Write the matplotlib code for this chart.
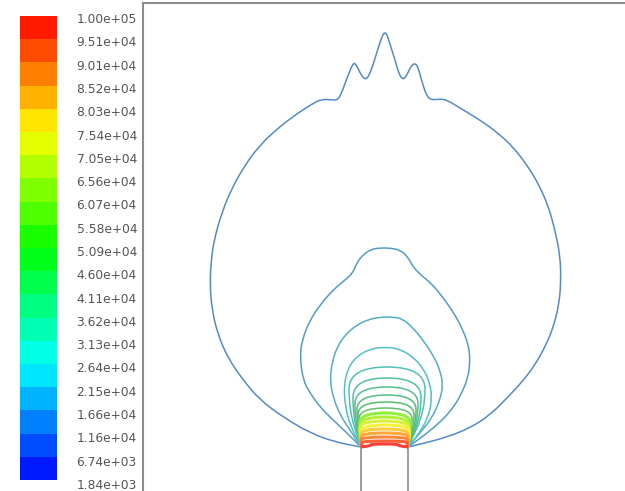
import numpy as np
import matplotlib
matplotlib.use("Agg")
import matplotlib.pyplot as plt
from matplotlib.colors import ListedColormap, BoundaryNorm, hsv_to_rgb
from matplotlib.path import Path
from matplotlib.patches import PathPatch
from matplotlib.cm import ScalarMappable

# contour levels (colour scale, bottom -> top)
levels = [1.84e3, 6.74e3, 1.16e4, 1.66e4, 2.15e4, 2.64e4, 3.13e4, 3.62e4, 4.11e4, 4.60e4,
          5.09e4, 5.58e4, 6.07e4, 6.56e4, 7.05e4, 7.54e4, 8.03e4, 8.52e4, 9.01e4, 9.51e4,
          1.00e5]

# nozzle walls (x of the two walls)
nozzle_x = [-24, 23]

# large contours (x across, y above nozzle exit)
c1_x = [-24, -50, -75, -102, -125, -142, -157, -167, -173, -175, -174, -171, -163, -153,
        -140, -125, -107, -87, -73, -63, -53, -47, -43, -38, -32, -29, -25, -20, -16, -11,
        -6, 0, 5, 10, 14, 18, 22, 26, 30, 33, 37, 42, 47, 55, 62, 75, 95, 113, 128, 142,
        153, 163, 170, 175, 176, 174, 168, 161, 150, 137, 122, 105, 85, 62, 40, 23]
c1_y = [0, 5, 14, 30, 47, 67, 89, 112, 137, 162, 185, 207, 235, 259, 282, 302, 319, 334,
        343, 348, 347, 347, 355, 369, 384, 383, 374, 367, 371, 385, 402, 418, 403, 387, 373,
        367, 372, 381, 384, 380, 365, 350, 347, 348, 347, 339, 327, 314, 300, 282, 264, 242,
        217, 192, 167, 142, 119, 102, 82, 65, 49, 32, 19, 10, 4, 0]

c2_x = [-24, -38, -52, -65, -75, -82, -85, -83, -75, -65, -52, -40, -32, -28, -21, -13, -5,
        5, 15, 23, 28, 37, 47, 60, 70, 78, 84, 85, 83, 75, 65, 52, 37, 23]
c2_y = [0, 14, 27, 40, 54, 67, 90, 107, 127, 142, 157, 167, 174, 185, 193, 198, 199, 199,
        197, 190, 180, 171, 163, 147, 132, 117, 100, 85, 69, 50, 35, 22, 10, 0]

c3_x = [-24, -35, -45, -52, -55, -53, -47, -38, -28, -18, -5, 8, 18, 28, 38, 48, 55, 58,
        55, 47, 35, 23]
c3_y = [0, 17, 32, 50, 67, 85, 102, 114, 122, 127, 130, 130, 128, 119, 107, 92, 77, 62,
        47, 29, 14, 0]

c4_x = [-24, -35, -40, -41, -37, -28, -15, 0, 15, 28, 38, 45, 47, 43, 33, 23]
c4_y = [0, 22, 42, 62, 79, 91, 98, 100, 98, 90, 79, 64, 47, 29, 12, 0]

# inner dome-shaped contours: top height, left and right reach
dome_top = [80, 69, 60, 52, 45, 39, 34, 30, 26, 22, 18, 14, 10, 6, 3]
dome_left = [-36, -32, -30, -28, -27, -26, -25, -25, -25, -24, -24, -24, -24, -23, -14]
dome_right = [40, 36, 33, 31, 29, 27, 25, 24, 24, 24, 23, 23, 23, 22, 13]

W, H = 625, 491
fig = plt.figure(figsize=(W / 100, H / 100), dpi=100)

n_band = len(levels) - 1
band_cols = [hsv_to_rgb((2 / 3 * (1 - (i + 0.5) / n_band), 1, 1)) for i in range(n_band)]
cmap = ListedColormap(band_cols)
norm = BoundaryNorm(levels, n_band)

# colour bar on the left
cax = fig.add_axes([20 / W, 1 - 480 / H, 37 / W, 464 / H])
cb = fig.colorbar(ScalarMappable(norm=norm, cmap=cmap), cax=cax, ticks=[])
cb.minorticks_off()
cb.outline.set_visible(False)
cax.tick_params(which="both", length=0)

lax = fig.add_axes([57 / W, 1 - 484 / H, 0.0001, 466 / H])
lax.set_ylim(0, n_band)
lax.set_xticks([])
lax.yaxis.tick_right()
lax.set_yticks(range(n_band + 1))
lax.set_yticklabels(["%.2e" % v for v in levels], fontsize=8.8,
                    family="DejaVu Sans", color="#555555")
lax.tick_params(axis="y", which="both", length=0, pad=14)
for s in lax.spines.values():
    s.set_visible(False)

# main view
ax = fig.add_axes([143 / W, 0, (W - 143) / W, (H - 3) / H])
ax.set_xlim(-242, 240)
ax.set_ylim(-44, 444)
ax.set_xticks([])
ax.set_yticks([])
for side in ["right", "bottom"]:
    ax.spines[side].set_visible(False)
for side in ["top", "left"]:
    ax.spines[side].set_color("#8c8c8c")
    ax.spines[side].set_linewidth(1.5)


def line_colour(v, w, base=(0.5, 0.62, 0.66)):
    t = (v - levels[0]) / (levels[-1] - levels[0])
    c = hsv_to_rgb((2 / 3 * (1 - t), 1, 1))
    return w * c + (1 - w) * np.array(base)


def smooth(xs, ys):
    p = np.column_stack([xs, ys]).astype(float)
    verts = [p[0], (p[0] + p[1]) / 2]
    codes = [Path.MOVETO, Path.LINETO]
    for i in range(1, len(p) - 1):
        verts += [p[i], (p[i] + p[i + 1]) / 2]
        codes += [Path.CURVE3, Path.CURVE3]
    verts.append(p[-1])
    codes.append(Path.LINETO)
    return Path(verts, codes)


big = [(c1_x, c1_y), (c2_x, c2_y), (c3_x, c3_y), (c4_x, c4_y)]
for k, (xs, ys) in enumerate(big):
    ax.add_patch(PathPatch(smooth(xs, ys), fill=False, lw=1.1,
                           edgecolor=line_colour(levels[k + 2], 0.35)))

for k in range(len(dome_top)):
    h, xl, xr = dome_top[k], dome_left[k], dome_right[k]
    xs = [nozzle_x[0], xl, xl, xr, xr, nozzle_x[1]]
    ys = [0, 0.45 * h, h, h, 0.45 * h, 0]
    lev = levels[k + 6]
    inner = h < 36
    if inner:
        col = line_colour(lev, 0.7, base=(0.95, 0.8, 0.75))
    else:
        col = line_colour(lev, 0.35)
    ax.add_patch(PathPatch(smooth(xs, ys), fill=False, lw=2.2 if inner else 1.1,
                           edgecolor=col, zorder=3 if inner else 2))

for xw in nozzle_x:
    ax.plot([xw, xw], [0, -60], color="#8c8c8c", lw=1.2)

fig.savefig("out.png", dpi=100)
